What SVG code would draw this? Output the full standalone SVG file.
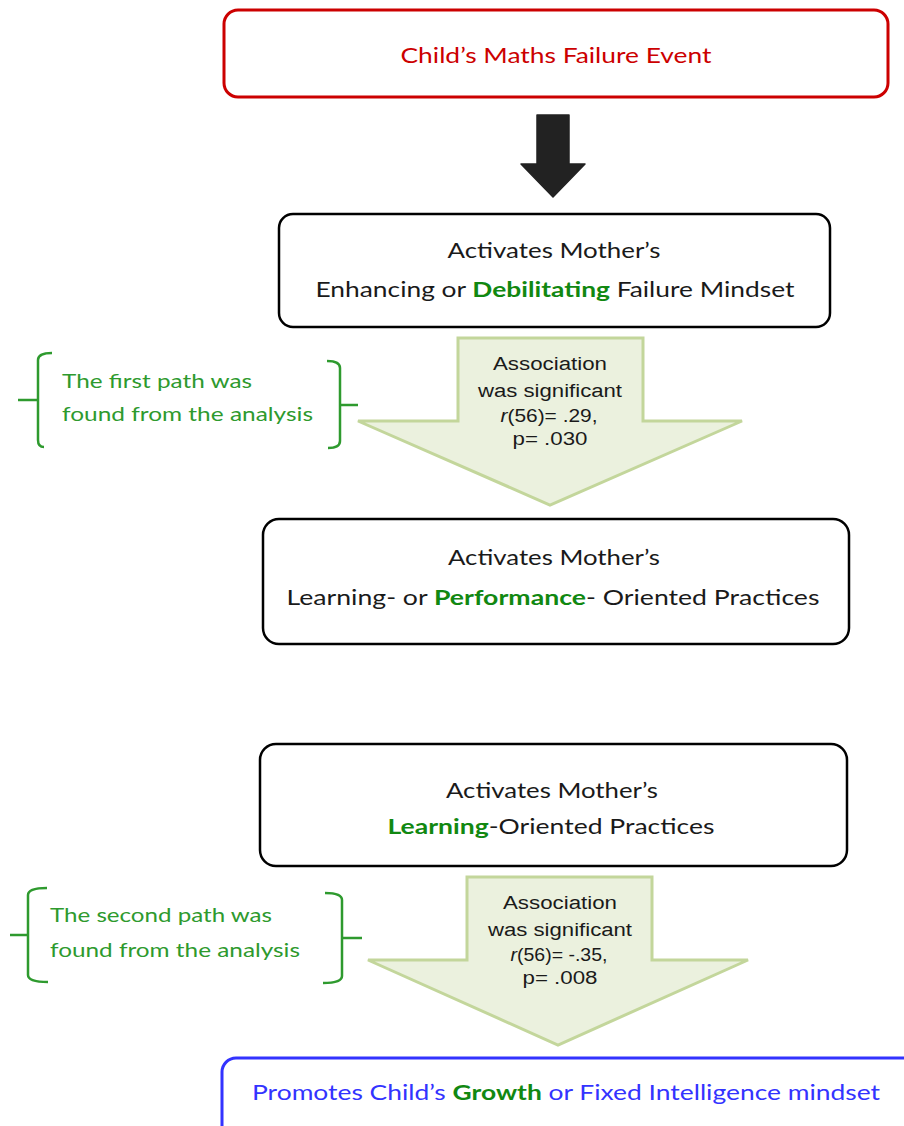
<svg xmlns="http://www.w3.org/2000/svg" width="904" height="1126" viewBox="0 0 904 1126">
<style>
.box{fill:#fff;stroke:#000;stroke-width:2.5}
.t{font-family:Lato,"Open Sans","Liberation Sans",sans-serif;font-size:21px;fill:#1a1a1a}
.g{fill:#118811;font-weight:bold}
.assoc{font-family:"Liberation Sans",Arial,sans-serif;font-size:18px;fill:#1a1a1a}
.garrow{fill:#ebf1de;stroke:#c3d69b;stroke-width:3;stroke-linejoin:miter}
.br{fill:none;stroke:#2e9a2e;stroke-width:2.5}
.bt{font-family:Lato,"Open Sans","Liberation Sans",sans-serif;font-size:20px;fill:#2e9a2e}
</style>
<rect width="904" height="1126" fill="#fff"/>

<g id="node-failure">
<rect x="224" y="10" width="664" height="87" rx="14" fill="#fff" stroke="#cc0000" stroke-width="3"/>
<text x="556" y="63" text-anchor="middle" class="t" style="fill:#cc0000" textLength="311" lengthAdjust="spacingAndGlyphs">Child’s Maths Failure Event</text>
</g>

<g id="node-mindset">
<rect class="box" x="279" y="214" width="551" height="113" rx="14"/>
<text x="554" y="258" text-anchor="middle" class="t" textLength="213" lengthAdjust="spacingAndGlyphs">Activates Mother’s</text>
<text x="555" y="297" text-anchor="middle" class="t" textLength="479" lengthAdjust="spacingAndGlyphs">Enhancing or <tspan class="g">Debilitating</tspan> Failure Mindset</text>
</g>

<g id="node-practices">
<rect class="box" x="263" y="519" width="586" height="125" rx="16"/>
<text x="554" y="565" text-anchor="middle" class="t" textLength="212" lengthAdjust="spacingAndGlyphs">Activates Mother’s</text>
<text x="553" y="605" text-anchor="middle" class="t" textLength="533" lengthAdjust="spacingAndGlyphs">Learning- or <tspan class="g">Performance</tspan>- Oriented Practices</text>
</g>

<g id="node-learning">
<rect class="box" x="260" y="744" width="587" height="122" rx="16"/>
<text x="552" y="798" text-anchor="middle" class="t" textLength="212" lengthAdjust="spacingAndGlyphs">Activates Mother’s</text>
<text x="551" y="834" text-anchor="middle" class="t" textLength="327" lengthAdjust="spacingAndGlyphs"><tspan class="g">Learning</tspan>-Oriented Practices</text>
</g>

<g id="node-growth">
<rect x="222" y="1058" width="720" height="100" rx="14" fill="#fff" stroke="#3333ff" stroke-width="3"/>
<text x="566" y="1100" text-anchor="middle" class="t" style="fill:#3333ff" textLength="628" lengthAdjust="spacingAndGlyphs">Promotes Child’s <tspan class="g">Growth</tspan> or Fixed Intelligence mindset</text>
</g>

<g id="connectors">
<path d="M537,115 H569 V164 H585 L553,197 L521,164 H537 Z" fill="#222" stroke="#222" stroke-width="1.5" stroke-linejoin="round"/>
<path class="garrow" d="M458,338 H643 V421 H742 L550,505 L358,421 H458 Z"/>
<path class="garrow" d="M467,877 H652 V960 H748 L558,1045 L368,960 H467 Z"/>
</g>

<g id="label-assoc1">
<text x="550" y="370" text-anchor="middle" class="assoc" textLength="114" lengthAdjust="spacingAndGlyphs">Association</text>
<text x="550" y="397" text-anchor="middle" class="assoc" textLength="144" lengthAdjust="spacingAndGlyphs">was significant</text>
<text x="549" y="422" text-anchor="middle" class="assoc" textLength="97" lengthAdjust="spacingAndGlyphs"><tspan font-style="italic">r</tspan>(56)= .29,</text>
<text x="550" y="445" text-anchor="middle" class="assoc" textLength="75" lengthAdjust="spacingAndGlyphs">p= .030</text>
</g>

<g id="label-assoc2">
<text x="560" y="909" text-anchor="middle" class="assoc" textLength="114" lengthAdjust="spacingAndGlyphs">Association</text>
<text x="560" y="936" text-anchor="middle" class="assoc" textLength="144" lengthAdjust="spacingAndGlyphs">was significant</text>
<text x="559" y="961" text-anchor="middle" class="assoc" textLength="97" lengthAdjust="spacingAndGlyphs"><tspan font-style="italic">r</tspan>(56)= -.35,</text>
<text x="560" y="984" text-anchor="middle" class="assoc" textLength="75" lengthAdjust="spacingAndGlyphs">p= .008</text>
</g>

<g id="note-first">
<path class="br" d="M52,353 Q38,353 38,360 V440 Q38,447 44,447"/>
<path class="br" d="M18,400 H38" stroke-width="3.5"/>
<path class="br" d="M327,361 Q340,361 340,368 V441 Q340,448 328,448"/>
<path class="br" d="M340,405 H358" stroke-width="3.5"/>
<text x="62" y="388" class="bt" textLength="190" lengthAdjust="spacingAndGlyphs">The first path was</text>
<text x="62" y="421" class="bt" textLength="251" lengthAdjust="spacingAndGlyphs">found from the analysis</text>
</g>

<g id="note-second">
<path class="br" d="M47,888 Q28,888 28,895 V975 Q28,982 48,982"/>
<path class="br" d="M10,935 H28" stroke-width="3.5"/>
<path class="br" d="M325,893 Q342,893 342,900 V976 Q342,983 323,983"/>
<path class="br" d="M342,938 H362" stroke-width="3.5"/>
<text x="50" y="922" class="bt" textLength="222" lengthAdjust="spacingAndGlyphs">The second path was</text>
<text x="50" y="957" class="bt" textLength="250" lengthAdjust="spacingAndGlyphs">found from the analysis</text>
</g>
</svg>
